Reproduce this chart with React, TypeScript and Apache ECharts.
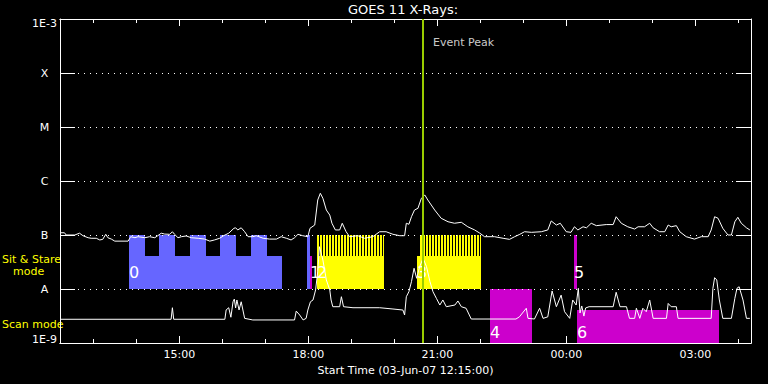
import React, { useEffect, useRef } from 'react';
import * as echarts from 'echarts';

// ---- Axis definition (hours since 03-Jun-07 00:00 UT) ----
const startHour = 12.226;
const endHour = 28.296;
const majorTickHours = [15, 18, 21, 24, 27];
const minorTickHours = [13, 14, 16, 17, 19, 20, 22, 23, 25, 26, 28];
const yTickLabels = ['1E-9', 'A', 'B', 'C', 'M', 'X', '1E-3'];
const eventPeakHour = 20.668;
const eventLabelFlux = 3.67e-4;

// ---- GOES 11 long channel (1-8 Å) ----
const longTime = [
  12.24, 12.33, 12.37, 12.57, 12.68, 12.76, 12.88, 12.95, 13.07, 13.15,
  13.22, 13.29, 13.34, 13.42, 13.5, 13.81, 13.87, 13.97, 14.04, 14.2,
  14.31, 14.43, 14.5, 14.58, 14.66, 14.78, 14.84, 14.89, 14.97, 15.05,
  15.16, 15.28, 15.44, 15.59, 15.71, 15.82, 15.94, 16.03, 16.15, 16.27,
  16.31, 16.36, 16.44, 16.52, 16.6, 16.71, 16.79, 16.95, 17.1, 17.26,
  17.37, 17.49, 17.6, 17.68, 17.76, 17.87, 17.99, 18.04, 18.15, 18.22,
  18.28, 18.34, 18.42, 18.5, 18.55, 18.63, 18.73, 18.79, 18.88, 18.96,
  19.15, 19.31, 19.5, 19.66, 19.81, 19.97, 20.13, 20.24, 20.28, 20.34,
  20.4, 20.47, 20.55, 20.63, 20.71, 20.78, 20.94, 21.09, 21.25, 21.4,
  21.56, 21.71, 21.87, 21.99, 22.1, 22.33, 22.53, 22.68, 22.8, 22.92,
  23.03, 23.19, 23.42, 23.57, 23.65, 23.77, 23.86, 24.0, 24.11, 24.19,
  24.27, 24.39, 24.47, 24.58, 24.7, 24.93, 25.09, 25.16, 25.28, 25.43,
  25.59, 25.67, 25.82, 25.94, 26.02, 26.17, 26.29, 26.37, 26.44, 26.56,
  26.64, 26.79, 26.98, 27.14, 27.3, 27.37, 27.45, 27.53, 27.64, 27.76,
  27.84, 27.92, 27.99, 28.07, 28.19, 28.27,
];
const longFlux = [
  1.10e-7, 1.10e-7, 1.00e-7, 1.00e-7, 1.08e-7, 0.97e-7, 0.89e-7, 0.87e-7, 0.87e-7, 0.81e-7,
  0.83e-7, 1.03e-7, 0.89e-7, 0.84e-7, 0.77e-7, 0.77e-7, 0.93e-7, 0.89e-7, 0.93e-7, 0.89e-7,
  0.93e-7, 0.89e-7, 0.97e-7, 1.08e-7, 1.04e-7, 1.03e-7, 1.15e-7, 1.03e-7, 0.89e-7, 0.93e-7,
  0.96e-7, 0.89e-7, 0.87e-7, 0.84e-7, 0.77e-7, 0.81e-7, 0.87e-7, 0.97e-7, 1.08e-7, 1.33e-7,
  1.36e-7, 1.24e-7, 1.36e-7, 1.15e-7, 0.93e-7, 0.93e-7, 0.97e-7, 0.87e-7, 0.84e-7, 0.84e-7,
  0.93e-7, 0.87e-7, 0.81e-7, 0.89e-7, 1.03e-7, 0.97e-7, 0.93e-7, 1.33e-7, 1.53e-7, 4.45e-7,
  5.92e-7, 4.78e-7, 2.9e-7, 2.34e-7, 1.65e-7, 1.24e-7, 1.24e-7, 1.65e-7, 1.15e-7, 0.93e-7,
  0.97e-7, 0.87e-7, 0.93e-7, 1.15e-7, 1.15e-7, 1.03e-7, 0.97e-7, 0.97e-7, 1.65e-7, 1.58e-7,
  2.18e-7, 2.9e-7, 3.12e-7, 4.78e-7, 5.5e-7, 4.45e-7, 2.9e-7, 2.04e-7, 1.76e-7, 1.65e-7,
  1.72e-7, 1.42e-7, 1.24e-7, 1.08e-7, 0.93e-7, 0.93e-7, 0.87e-7, 0.83e-7, 0.93e-7, 1.03e-7,
  1.15e-7, 1.12e-7, 1.15e-7, 1.24e-7, 1.82e-7, 1.53e-7, 1.65e-7, 1.15e-7, 1.12e-7, 1.42e-7,
  1.24e-7, 1.42e-7, 1.36e-7, 1.65e-7, 1.49e-7, 1.56e-7, 1.56e-7, 2.18e-7, 1.65e-7, 1.42e-7,
  1.29e-7, 1.42e-7, 1.42e-7, 1.65e-7, 1.36e-7, 1.15e-7, 1.15e-7, 1.53e-7, 1.42e-7, 1.49e-7,
  1.15e-7, 0.93e-7, 0.84e-7, 0.93e-7, 0.93e-7, 1.24e-7, 2.18e-7, 2.04e-7, 1.33e-7, 1.0e-7,
  1.0e-7, 1.76e-7, 2.13e-7, 1.65e-7, 1.36e-7, 1.24e-7,
];

// ---- GOES 11 short channel (0.5-4 Å) ----
const shortTime = [
  12.24, 14.81, 14.84, 14.87, 16.06, 16.09, 16.15, 16.2, 16.25, 16.28,
  16.31, 16.34, 16.39, 16.44, 16.52, 16.71, 17.68, 17.72, 17.8, 17.88,
  17.95, 17.99, 18.05, 18.11, 18.17, 18.22, 18.26, 18.34, 18.42, 18.5,
  18.53, 18.57, 18.73, 18.77, 18.82, 19.04, 19.66, 19.97, 20.2, 20.24,
  20.28, 20.34, 20.4, 20.46, 20.52, 20.59, 20.67, 20.75, 20.83, 20.9,
  20.98, 21.06, 21.13, 21.21, 21.41, 21.48, 21.56, 21.67, 21.79, 22.83,
  22.91, 23.07, 23.11, 23.26, 23.38, 23.46, 23.57, 23.67, 23.77, 23.88,
  23.96, 24.08, 24.15, 24.23, 24.28, 24.32, 24.36, 24.41, 24.45, 24.53,
  25.09, 25.16, 25.25, 25.4, 25.47, 25.59, 25.63, 25.71, 25.78, 25.86,
  25.94, 26.02, 26.33, 26.37, 26.44, 26.56, 26.6, 27.37, 27.41, 27.45,
  27.5, 27.56, 27.64, 27.84, 27.92, 27.97, 28.02, 28.11, 28.19, 28.27,
];
const shortFlux = [
  2.75e-9, 2.75e-9, 4.5e-9, 2.75e-9, 2.75e-9, 4.1e-9, 4.5e-9, 3.0e-9, 5.8e-9, 6.5e-9,
  4.45e-9, 6.26e-9, 4.08e-9, 5.8e-9, 2.86e-9, 2.67e-9, 2.67e-9, 3.9e-9, 3.3e-9, 2.67e-9,
  2.86e-9, 4.08e-9, 5.8e-9, 6.26e-9, 9.6e-9, 2.09e-8, 6.07e-8, 3.44e-8, 1.47e-8, 9.6e-9,
  6.26e-9, 4.7e-9, 4.7e-9, 7.2e-9, 4.7e-9, 4.5e-9, 4.5e-9, 4.26e-9, 4.08e-9, 3.3e-9,
  7.2e-9, 8.9e-9, 1.37e-8, 2.42e-8, 1.58e-8, 2.59e-8, 3.7e-8, 2.59e-8, 1.37e-8, 8.9e-9,
  6.7e-9, 5.05e-9, 6.26e-9, 4.7e-9, 5.05e-9, 6.0e-9, 4.7e-9, 4.4e-9, 2.78e-9, 2.78e-9,
  3.05e-9, 4.4e-9, 2.86e-9, 2.78e-9, 4.4e-9, 2.86e-9, 3.05e-9, 9.2e-9, 4.7e-9, 7.7e-9,
  3.8e-9, 2.86e-9, 6.26e-9, 5.05e-9, 1.03e-8, 3.6e-9, 4.85e-9, 3.15e-9, 4.45e-9, 4.7e-9,
  4.7e-9, 8.7e-9, 4.7e-9, 4.7e-9, 2.86e-9, 2.86e-9, 4.4e-9, 2.86e-9, 4.4e-9, 3.8e-9,
  6.26e-9, 2.86e-9, 2.86e-9, 5.4e-9, 4.7e-9, 4.7e-9, 2.86e-9, 2.86e-9, 1.03e-8, 1.62e-8,
  1.47e-8, 6.26e-9, 2.86e-9, 2.86e-9, 6.7e-9, 1.03e-8, 1.1e-8, 6.26e-9, 2.86e-9, 2.86e-9,
];

// ---- Observation blocks (sit & stare band 1E-8..1E-7, scan band 1E-9..1E-8) ----
const blockStart = [13.83, 13.83, 14.53, 15.25, 15.95, 16.67, 17.98, 18.03, 18.21, 18.21, 20.54, 20.6, 22.23, 24.17, 24.19, 24.26];
const blockEnd = [17.39, 14.2, 14.9, 15.62, 16.32, 17.04, 18.03, 18.09, 19.76, 19.76, 22.01, 22.01, 23.2, 24.19, 24.26, 27.55];
const blockLow = [1e-8, 4.08e-8, 4.08e-8, 4.08e-8, 4.08e-8, 4.08e-8, 1e-8, 1e-8, 1e-8, 4.08e-8, 1e-8, 4.08e-8, 1e-9, 1e-8, 1e-8, 1e-9];
const blockHigh = [4.08e-8, 1e-7, 1e-7, 1e-7, 1e-7, 1e-7, 1e-7, 4.08e-8, 4.08e-8, 1e-7, 4.08e-8, 1e-7, 1e-8, 4.08e-8, 1e-7, 4.08e-9];
const blockKind = ['blue', 'blue', 'blue', 'blue', 'blue', 'blue', 'blue', 'magenta', 'yellow', 'yellow', 'yellow', 'yellow', 'magenta', 'blue', 'magenta', 'magenta'];
const blockStriped = [false, false, false, false, false, false, false, false, false, true, false, true, false, false, false, false];
const blockLabel = ['0', '', '', '', '', '', '', '1', '2', '', '3', '', '4', '', '5', '6'];

const kindColor: Record<string, string> = { blue: '#6666ff', magenta: '#cc00cc', yellow: '#ffff00' };
const FONT = 'DejaVu Sans';
const WHITE = '#ffffff';

function fmtHour(v: number) {
  const h = Math.round(v) % 24;
  return (h < 10 ? '0' : '') + h + ':00';
}

export default function App() {
  const ref = useRef<HTMLDivElement>(null);
  useEffect(() => {
    if (!ref.current) return;
    const chart = echarts.init(ref.current, null, { renderer: 'svg' });
    const axisLine = { show: true, onZero: false, lineStyle: { color: WHITE, width: 1 } };
    const xBase: any = { type: 'value', min: startHour, max: endHour, axisLine, splitLine: { show: false } };
    const blockData = blockStart.map((s, i) => [s, blockEnd[i], blockLow[i], blockHigh[i], i]);

    const option: any = {
      animation: false,
      backgroundColor: '#000000',
      title: {
        text: 'GOES 11 X-Rays:', left: 403, top: 3, textAlign: 'center', padding: 0,
        textStyle: { color: WHITE, fontSize: 13, fontWeight: 'normal', fontFamily: FONT },
      },
      grid: { left: 60, right: 17, top: 19, bottom: 41, containLabel: false },
      xAxis: [
        {
          ...xBase, position: 'bottom',
          axisTick: { show: true, inside: true, length: 7, customValues: majorTickHours, lineStyle: { color: WHITE } },
          axisLabel: { show: true, customValues: majorTickHours, formatter: fmtHour, color: WHITE, fontSize: 11, fontFamily: FONT, margin: 6 },
          name: 'Start Time (03-Jun-07 12:15:00)', nameLocation: 'middle', nameGap: 19,
          nameTextStyle: { color: WHITE, fontSize: 11, fontFamily: FONT },
        },
        { ...xBase, position: 'bottom', axisTick: { show: true, inside: true, length: 4, customValues: minorTickHours, lineStyle: { color: WHITE } }, axisLabel: { show: false } },
        { ...xBase, position: 'top', axisTick: { show: true, inside: true, length: 7, customValues: majorTickHours, lineStyle: { color: WHITE } }, axisLabel: { show: false } },
        { ...xBase, position: 'top', axisTick: { show: true, inside: true, length: 4, customValues: minorTickHours, lineStyle: { color: WHITE } }, axisLabel: { show: false } },
      ],
      yAxis: [
        {
          type: 'log', logBase: 10, min: 1e-9, max: 1e-3, position: 'left', z: 2,
          axisLine: { show: true, lineStyle: { color: WHITE } },
          axisTick: { show: true, inside: true, length: 15, lineStyle: { color: WHITE } },
          minorTick: { show: false },
          axisLabel: {
            show: true, color: WHITE, fontSize: 11, fontFamily: FONT, align: 'center', margin: 15.5, lineHeight: 8,
            showMinLabel: true, showMaxLabel: true,
            formatter: (v: number) => {
              const e = Math.round(Math.log10(v));
              const s = yTickLabels[e + 9] ?? '';
              if (e === -3) return '\n' + s;
              if (e === -9) return s + '\n';
              return s;
            },
          },
          splitLine: { show: true, showMinLine: false, showMaxLine: false, lineStyle: { color: WHITE, width: 1, type: [1, 5] } },
        },
        {
          type: 'log', logBase: 10, min: 1e-9, max: 1e-3, position: 'right', z: 2,
          axisLine: { show: true, lineStyle: { color: WHITE } },
          axisTick: { show: true, inside: true, length: 15, lineStyle: { color: WHITE } },
          minorTick: { show: false },
          axisLabel: { show: false },
          splitLine: { show: false },
        },
      ],
      graphic: [
        { type: 'text', x: 2, y: 259, style: { text: 'Sit & Stare', fill: '#ffff00', font: `11px "${FONT}"`, verticalAlign: 'middle' } },
        { type: 'text', x: 13, y: 271, style: { text: 'mode', fill: '#ffff00', font: `11px "${FONT}"`, verticalAlign: 'middle' } },
        { type: 'text', x: 2, y: 324, style: { text: 'Scan mode', fill: '#ffff00', font: `11px "${FONT}"`, verticalAlign: 'middle' } },
      ],
      series: [
        {
          type: 'custom', name: 'blocks', z: 1, xAxisIndex: 0, yAxisIndex: 0,
          encode: { x: [0, 1], y: [2, 3] },
          data: blockData,
          renderItem: (params: any, api: any) => {
            const i = api.value(4);
            const tl = api.coord([api.value(0), api.value(3)]);
            const br = api.coord([api.value(1), api.value(2)]);
            const x0 = Math.round(tl[0]);
            const x1 = Math.round(br[0]);
            const y0 = Math.round(tl[1]);
            const y1 = Math.round(br[1]);
            const fill = kindColor[blockKind[i]];
            const children: any[] = [];
            if (blockStriped[i]) {
              for (let x = x0; x < x1; x += 3) {
                children.push({ type: 'rect', shape: { x, y: y0, width: Math.min(2, x1 - x), height: y1 - y0 }, style: { fill } });
              }
            } else {
              children.push({ type: 'rect', shape: { x: x0, y: y0, width: Math.max(1, x1 - x0), height: y1 - y0 }, style: { fill } });
            }
            if (blockLabel[i]) {
              const ly = blockLow[i] >= 1e-8 ? y1 - 17 : y1 - 10.5;
              children.push({
                type: 'text', x: x0, y: ly, z2: 10,
                style: { text: blockLabel[i], fill: WHITE, fontSize: 16, fontFamily: FONT, verticalAlign: 'middle', align: 'left' },
              });
            }
            return { type: 'group', children };
          },
        },
        {
          type: 'line', name: 'long', z: 3, xAxisIndex: 0, yAxisIndex: 0,
          data: longTime.map((t, i) => [t, longFlux[i]]),
          showSymbol: false, symbol: 'none', lineStyle: { color: WHITE, width: 1 },
          markLine: {
            silent: true, symbol: 'none', label: { show: false },
            lineStyle: { color: '#99cc00', width: 2, type: 'solid' },
            data: [{ xAxis: eventPeakHour }],
          },
        },
        {
          type: 'line', name: 'short', z: 3, xAxisIndex: 0, yAxisIndex: 0,
          data: shortTime.map((t, i) => [t, shortFlux[i]]),
          showSymbol: false, symbol: 'none', lineStyle: { color: WHITE, width: 1 },
        },
        {
          type: 'scatter', name: 'eventLabel', z: 5, silent: true, xAxisIndex: 0, yAxisIndex: 0,
          symbolSize: 0,
          data: [[eventPeakHour, eventLabelFlux]],
          label: { show: true, position: 'right', distance: 10, formatter: 'Event Peak', color: WHITE, fontSize: 11, fontFamily: FONT },
        },
      ],
    };
    chart.setOption(option);
    return () => chart.dispose();
  }, []);
  return <div ref={ref} style={{ position: 'fixed', left: 0, top: 0, width: 768, height: 384, background: '#000' }} />;
}
